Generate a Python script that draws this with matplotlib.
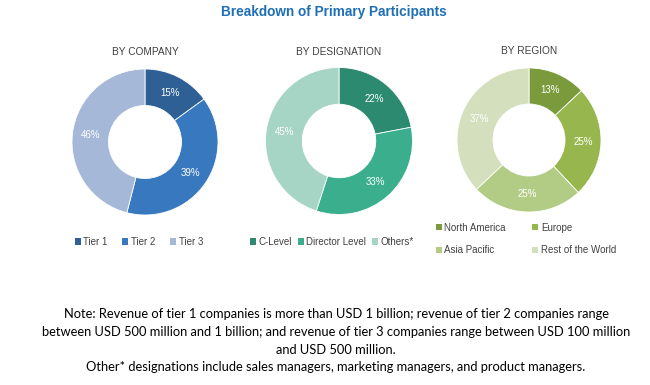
import matplotlib
matplotlib.use("Agg")
import matplotlib.pyplot as plt
from matplotlib.patches import Patch

plt.rcParams['font.family'] = ['Liberation Sans', 'DejaVu Sans']

title = "Breakdown of Primary Participants"

company_labels = ["Tier 1", "Tier 2", "Tier 3"]
company_values = [15, 39, 46]
company_colors = ["#2e5f95", "#3878be", "#a5b8d8"]

designation_labels = ["C-Level", "Director Level", "Others*"]
designation_values = [22, 33, 45]
designation_colors = ["#2b8a6f", "#3aae8d", "#a6d4c5"]

region_labels = ["North America", "Europe", "Asia Pacific", "Rest of the World"]
region_values = [13, 25, 25, 37]
region_colors = ["#7b9a3c", "#97b74e", "#b3cc85", "#d3dfbd"]

note_lines = [
    "Note: Revenue of tier 1 companies is more than USD 1 billion; revenue of tier 2 companies range",
    "between USD 500 million and 1 billion; and revenue of tier 3 companies range between USD 100 million",
    "and USD 500 million.",
    "Other* designations include sales managers, marketing managers, and product managers.",
]

W, H = 650, 385
fig = plt.figure(figsize=(W / 100, H / 100), dpi=100)
fig.patch.set_facecolor("white")

def px_axes(cx, cy, r):
    return fig.add_axes([(cx - r) / W, (H - cy - r) / H, 2 * r / W, 2 * r / H])

def donut(cx, cy, r, values, colors, subtitle, title_y):
    ax = px_axes(cx, cy, r)
    ax.pie(values, colors=colors, startangle=90, counterclock=False, radius=1,
           wedgeprops=dict(width=0.5, edgecolor="white", linewidth=0.6),
           autopct=lambda p: f"{p:.0f}%", pctdistance=0.75,
           textprops=dict(color="white", fontsize=7))
    ax.set_xlim(-1, 1)
    ax.set_ylim(-1, 1)
    ax.set_aspect("equal")
    ax.axis("off")
    fig.text(cx / W, 1 - title_y / H, subtitle, ha="center", va="center",
             fontsize=7.3, color="#404040")
    return ax

donut(145, 142, 73, company_values, company_colors, "BY COMPANY", 52)
donut(339, 141, 73.5, designation_values, designation_colors, "BY DESIGNATION", 52)
donut(529, 140, 72, region_values, region_colors, "BY REGION", 51)

fig.text(0.513, 1 - 12 / H, title, ha="center", va="center", fontsize=9.8,
         fontweight="bold", color="#1f6fb6")

def legend(labels, colors, cx, cy, ncol, colspace, rowspace=0.5):
    handles = [Patch(facecolor=c, edgecolor="none") for c in colors]
    fig.legend(handles, labels, loc="center", bbox_to_anchor=(cx / W, 1 - cy / H),
               ncol=ncol, frameon=False, fontsize=7, handlelength=0.6, handleheight=0.6,
               handletextpad=0.3, columnspacing=colspace, labelspacing=rowspace,
               labelcolor="#404040")

legend(company_labels, company_colors, 139, 242, 3, 1.5)
legend(designation_labels, designation_colors, 332, 242, 3, 0.6)
# fill row-wise: matplotlib fills legend columns first
order = [0, 2, 1, 3]
legend([region_labels[i] for i in order], [region_colors[i] for i in order],
       526, 239, 2, 2.7, 1.3)

note_y = [314, 332, 350, 367]
for line, y in zip(note_lines, note_y):
    fig.text(336 / W, 1 - y / H, line, ha="center", va="center", fontsize=9.3,
             color="black", family=['Lato', 'DejaVu Sans'])

fig.savefig("out.png", dpi=100)
